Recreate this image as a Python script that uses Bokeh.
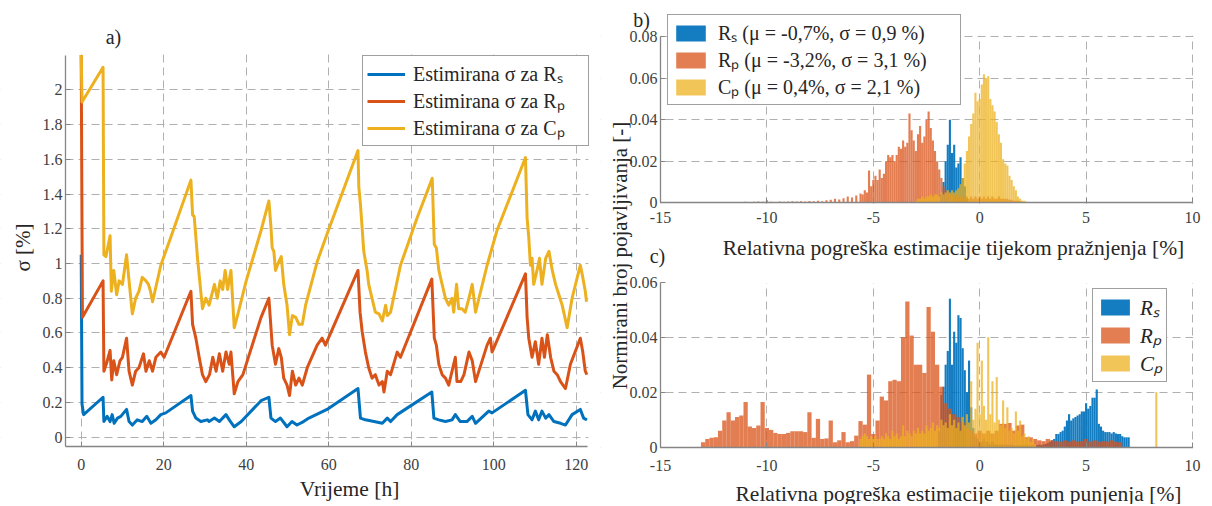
import math
from bokeh.plotting import figure
from bokeh.layouts import row
from bokeh.models import (Range1d, FixedTicker, Legend, LegendItem, Label, LinearAxis, Grid,
                          BoxAnnotation)
from bokeh.embed import file_html
from bokeh.resources import INLINE

SERIF = "Liberation Serif"
BLUE, RED, YELLOW = "#0072BD", "#D95319", "#EDB120"

# ---------------- data: panel a) estimated sigma over time ----------------
rs_points = [(0, 1.05), (0.2, 0.19), (0.6, 0.13), (5.3, 0.23), (5.5, 0.09), (6.3, 0.12), (7.0, 0.09),
             (7.5, 0.13), (8.0, 0.08), (8.8, 0.11), (9.6, 0.12), (11.0, 0.16), (11.6, 0.09), (12.4, 0.07),
             (13.6, 0.10), (14.8, 0.09), (15.9, 0.12), (16.9, 0.08), (18.1, 0.10), (19.3, 0.13), (20.5, 0.14),
             (26.6, 0.24), (27.0, 0.15), (27.8, 0.11), (29.0, 0.09), (30.6, 0.10), (31.0, 0.09), (32.3, 0.11),
             (33.5, 0.09), (35.1, 0.13), (35.9, 0.10), (37.1, 0.06), (38.8, 0.09), (43.6, 0.21), (45.5, 0.23),
             (46.0, 0.11), (47.1, 0.09), (48.3, 0.11), (49.9, 0.06), (51.1, 0.09), (52.3, 0.07), (53.9, 0.09),
             (55.2, 0.11), (59.6, 0.16), (67.1, 0.28), (67.7, 0.11), (68.9, 0.10), (71.0, 0.09), (73.0, 0.08),
             (74.2, 0.11), (75.0, 0.09), (76.6, 0.13), (85.0, 0.26), (85.5, 0.11), (86.7, 0.10), (88.3, 0.09),
             (89.9, 0.10), (90.7, 0.13), (91.9, 0.09), (93.5, 0.09), (94.8, 0.12), (95.6, 0.08), (98.8, 0.15),
             (99.6, 0.14), (107.7, 0.27), (108.3, 0.13), (109.3, 0.10), (110.1, 0.15), (110.9, 0.10),
             (111.7, 0.15), (112.6, 0.11), (113.4, 0.13), (114.6, 0.09), (116.2, 0.08), (117.4, 0.07),
             (119.0, 0.13), (121.0, 0.16), (121.8, 0.11), (122.6, 0.10)]

rp_points = [(0, 2.2), (0.3, 0.69), (5.3, 0.90), (5.5, 0.38), (6.2, 0.43), (7.0, 0.50), (7.4, 0.33),
             (7.9, 0.44), (8.6, 0.36), (9.4, 0.44), (10.0, 0.46), (11.0, 0.57), (11.6, 0.38), (12.4, 0.30),
             (13.2, 0.38), (14.0, 0.40), (15.1, 0.48), (15.7, 0.38), (16.5, 0.44), (17.3, 0.38), (18.1, 0.46),
             (19.3, 0.49), (20.1, 0.46), (26.6, 0.84), (27.0, 0.65), (27.8, 0.57), (28.6, 0.46), (29.4, 0.36),
             (30.2, 0.32), (31.1, 0.36), (31.9, 0.46), (32.7, 0.38), (33.5, 0.48), (34.3, 0.38), (35.1, 0.49),
             (35.9, 0.42), (36.3, 0.49), (37.1, 0.25), (38.0, 0.32), (39.2, 0.36), (43.6, 0.69), (45.5, 0.80),
             (46.3, 0.53), (47.1, 0.42), (47.9, 0.51), (48.5, 0.46), (49.1, 0.34), (49.9, 0.30), (50.5, 0.24),
             (51.2, 0.38), (52.0, 0.30), (52.8, 0.34), (53.6, 0.30), (54.8, 0.40), (57.2, 0.53), (58.4, 0.57),
             (59.2, 0.53), (67.1, 0.96), (67.6, 0.72), (68.1, 0.61), (68.9, 0.49), (69.7, 0.40), (70.5, 0.34),
             (71.3, 0.36), (72.2, 0.30), (73.0, 0.32), (73.4, 0.26), (74.2, 0.38), (75.0, 0.36), (76.6, 0.49),
             (77.4, 0.46), (85.0, 0.91), (85.6, 0.57), (86.1, 0.53), (86.7, 0.42), (87.5, 0.36), (88.3, 0.34),
             (89.1, 0.30), (89.9, 0.38), (90.7, 0.46), (91.1, 0.32), (92.0, 0.32), (92.8, 0.36), (94.0, 0.49),
             (94.8, 0.44), (95.6, 0.32), (98.4, 0.53), (99.2, 0.57), (99.6, 0.49), (107.7, 0.94), (108.1, 0.69),
             (108.5, 0.57), (109.3, 0.46), (110.1, 0.55), (110.9, 0.42), (111.7, 0.57), (112.3, 0.46),
             (113.0, 0.59), (113.8, 0.46), (114.6, 0.38), (115.4, 0.36), (116.2, 0.32), (117.4, 0.28),
             (118.6, 0.42), (121.0, 0.57), (121.6, 0.49), (122.2, 0.38), (122.6, 0.36)]

cp_points = [(0, 2.2), (0.2, 1.93), (5.3, 2.13), (5.5, 1.05), (6.0, 1.04), (7.0, 1.16), (7.3, 0.84),
             (7.9, 0.96), (8.6, 0.82), (9.2, 0.90), (10.0, 0.88), (11.0, 1.05), (11.6, 0.90), (12.4, 0.71),
             (13.2, 0.80), (14.0, 0.84), (14.8, 0.92), (15.7, 0.90), (16.3, 0.88), (16.8, 0.84), (17.3, 0.78),
             (19.3, 0.99), (21.7, 1.15), (26.6, 1.48), (27.0, 1.28), (27.4, 1.27), (27.8, 1.15), (28.2, 1.03),
             (29.4, 0.74), (30.2, 0.80), (31.0, 0.76), (32.3, 0.88), (33.0, 0.80), (33.7, 0.90), (34.3, 0.85),
             (34.9, 0.96), (35.5, 0.85), (36.3, 0.96), (37.1, 0.63), (38.0, 0.71), (40.0, 0.90), (43.6, 1.19),
             (45.5, 1.36), (46.0, 1.21), (46.3, 1.09), (46.7, 1.07), (47.1, 0.96), (47.9, 1.01), (48.5, 1.04),
             (49.1, 0.88), (49.9, 0.76), (50.5, 0.59), (51.2, 0.70), (52.0, 0.69), (52.8, 0.65), (53.6, 0.65),
             (54.4, 0.76), (57.2, 1.01), (59.6, 1.17), (67.1, 1.65), (67.3, 1.44), (67.7, 1.34), (68.5, 1.07),
             (69.3, 0.96), (69.7, 0.88), (70.5, 0.80), (71.3, 0.72), (72.2, 0.71), (73.0, 0.67), (73.8, 0.76),
             (74.2, 0.70), (75.0, 0.72), (77.4, 0.99), (81.4, 1.26), (85.1, 1.49), (85.4, 1.26), (85.6, 1.11),
             (86.1, 1.09), (86.7, 0.96), (87.5, 0.88), (88.3, 0.80), (89.1, 0.76), (89.9, 0.80), (90.3, 0.72),
             (91.0, 0.88), (91.5, 0.74), (92.3, 0.74), (93.1, 0.72), (94.0, 0.80), (94.8, 0.88), (95.6, 0.72),
             (98.4, 0.99), (100.8, 1.19), (107.7, 1.61), (108.1, 1.26), (108.5, 1.15), (108.9, 0.99),
             (109.3, 1.03), (109.7, 0.88), (110.5, 0.96), (111.1, 1.03), (111.7, 0.88), (112.6, 1.03),
             (113.4, 1.07), (114.2, 0.96), (115.0, 0.88), (115.8, 0.82), (116.6, 0.76), (117.8, 0.63),
             (119.0, 0.80), (121.0, 0.99), (121.6, 0.92), (122.2, 0.84), (122.5, 0.78)]

time_ticks = [0, 20, 40, 60, 80, 100, 120]
sigma_ticks = [0, 0.2, 0.4, 0.6, 0.8, 1.0, 1.2, 1.4, 1.6, 1.8, 2.0]
sigma_tick_labels = ["0", "0.2", "0.4", "0.6", "0.8", "1", "1.2", "1.4", "1.6", "1.8", "2"]
time_limits = (-3.8, 122.7)
sigma_limits = (-0.054, 2.2)

# ---------------- data: panels b) and c) histograms ----------------
err_ticks = [-15, -10, -5, 0, 5, 10]
err_tick_labels = ["-15", "-10", "-5", "0", "5", "10"]
b_freq_ticks = [0, 0.02, 0.04, 0.06, 0.08]
b_freq_tick_labels = ["0", "0.02", "0.04", "0.06", "0.08"]
c_freq_ticks = [0, 0.02, 0.04, 0.06]
c_freq_tick_labels = ["0", "0.02", "0.04", "0.06"]

# b) discharge
b_rs_start, b_rs_width = -1.8, 0.1
b_rs_heights = [0.004, 0.010, 0.020, 0.028, 0.040, 0.024, 0.028, 0.017, 0.019, 0.022, 0.012, 0.008, 0.002]

b_rp_tail_start, b_rp_tail_width = -12.0, 0.2
b_rp_tail_heights = [0.0003, 0.0002, 0.0003, 0.0004, 0.0003, 0.0005, 0.0004, 0.0005, 0.0006, 0.0005,
                     0.0012, 0.0005, 0.0004, 0.0006, 0.0005, 0.0006, 0.0007, 0.0006, 0.0008, 0.0006,
                     0.0009, 0.0007, 0.0010, 0.0008, 0.0012, 0.0015, 0.0020, 0.0016, 0.0022, 0.0030,
                     0.0025, 0.0035, 0.0045]
b_rp_start, b_rp_width = -5.5, 0.1
b_rp_heights = [0.004, 0.006, 0.005, 0.0156, 0.008, 0.011, 0.013, 0.011, 0.016, 0.012,
                0.014, 0.020, 0.023, 0.022, 0.023, 0.020, 0.023, 0.027, 0.026, 0.030,
                0.027, 0.029, 0.043, 0.035, 0.030, 0.025, 0.033, 0.037, 0.029, 0.032,
                0.040, 0.044, 0.036, 0.030, 0.025, 0.020, 0.016, 0.012, 0.008, 0.006,
                0.005, 0.004, 0.004, 0.003, 0.004, 0.003, 0.003, 0.003, 0.002, 0.003,
                0.002, 0.003, 0.002, 0.003, 0.002, 0.003, 0.002, 0.003, 0.002, 0.003,
                0.002, 0.003, 0.002, 0.002, 0.003, 0.002, 0.002, 0.002, 0.002, 0.0015,
                0.0015, 0.001, 0.001, 0.001, 0.0008, 0.0005]

b_cp_start, b_cp_width = -3.0, 0.1
b_cp_heights = [0.001, 0.002, 0.002, 0.003, 0.002, 0.003, 0.003, 0.004, 0.003, 0.004,
                0.004, 0.003, 0.005, 0.004, 0.005, 0.006, 0.005, 0.006, 0.005, 0.006,
                0.007, 0.009, 0.012, 0.019, 0.025, 0.032, 0.038, 0.043, 0.053, 0.049,
                0.050, 0.057, 0.062, 0.060, 0.061, 0.050, 0.047, 0.044, 0.039, 0.033,
                0.029, 0.021, 0.019, 0.018, 0.013, 0.011, 0.008, 0.006, 0.003, 0.002,
                0.001, 0.001, 0.0005]

# c) charge
c_rs_start, c_rs_width = -1.9, 0.1
c_rs_heights = [0.006, 0.019, 0.022, 0.030, 0.035, 0.054, 0.030, 0.042, 0.038, 0.048,
                0.047, 0.036, 0.028, 0.020, 0.0315, 0.0145, 0.007, 0.004, 0.003, 0.002,
                0.002, 0.003, 0.002, 0.002, 0.001, 0.002, 0.001, 0.001, 0.001, 0.001,
                0.001, 0.0008, 0.001, 0.0008, 0.001, 0.0008, 0.0006, 0.0008, 0.0006, 0.0008,
                0.0006, 0.0008, 0.0006, 0.0006, 0.0008, 0.0006, 0.0008, 0.001, 0.0008, 0.001,
                0.0012, 0.0015, 0.002, 0.0025, 0.003, 0.0048, 0.0048, 0.0055, 0.006, 0.0075,
                0.0097, 0.012, 0.0097, 0.0105, 0.011, 0.0115, 0.012, 0.013, 0.013, 0.016,
                0.014, 0.015, 0.018, 0.018, 0.021, 0.0085, 0.0075, 0.006, 0.0055, 0.0055,
                0.0055, 0.005, 0.0055, 0.005, 0.0048, 0.0048, 0.004, 0.0036, 0.0036, 0.0036]

c_rp_start, c_rp_width = -13.0, 0.2
c_rp_heights = [0.0018, 0.003, 0.0034, 0.0036, 0.006, 0.0097, 0.0127, 0.0097, 0.011, 0.0115,
                0.0164, 0.0075, 0.007, 0.0079, 0.0164, 0.007, 0.0063, 0.0052, 0.0048, 0.0048,
                0.0052, 0.0058, 0.0058, 0.0058, 0.0055, 0.0127, 0.0034, 0.0103, 0.003, 0.0032,
                0.0097, 0.0018, 0.0025, 0.0055, 0.0018, 0.0022, 0.0042, 0.0095, 0.0082, 0.0264,
                0.0048, 0.0097, 0.0184, 0.017, 0.024, 0.0245, 0.024, 0.040, 0.053, 0.0406,
                0.030, 0.030, 0.027, 0.051, 0.042, 0.030, 0.022, 0.016, 0.014, 0.012,
                0.011, 0.009, 0.007, 0.006, 0.005, 0.006, 0.005, 0.006, 0.005, 0.006,
                0.0085, 0.0085, 0.0088, 0.006, 0.0079, 0.0082, 0.0036, 0.0036, 0.003, 0.0025,
                0.0022, 0.003, 0.0025, 0.0022, 0.002, 0.0025, 0.002, 0.0025, 0.002, 0.0022,
                0.003, 0.002, 0.0025, 0.002, 0.0022, 0.002, 0.0025, 0.002, 0.0018]

c_cp_start, c_cp_width = -5.6, 0.1
c_cp_heights = [0.003, 0.004, 0.005, 0.004, 0.003, 0.004, 0.003, 0.004, 0.003, 0.003,
                0.004, 0.003, 0.005, 0.004, 0.003, 0.006, 0.004, 0.005, 0.003, 0.004,
                0.008, 0.004, 0.006, 0.005, 0.004, 0.006, 0.005, 0.007, 0.005, 0.006,
                0.005, 0.008, 0.006, 0.007, 0.009, 0.006, 0.008, 0.007, 0.010, 0.008,
                0.009, 0.007, 0.012, 0.008, 0.010, 0.007, 0.009, 0.006, 0.011, 0.008,
                0.012, 0.009, 0.024, 0.010, 0.014, 0.038, 0.012, 0.0315, 0.015, 0.010,
                0.040, 0.012, 0.024, 0.009, 0.0255, 0.010, 0.008, 0.017, 0.007, 0.0145,
                0.006, 0.007, 0.005, 0.013, 0.006, 0.0097, 0.004, 0.005, 0.003, 0.004,
                0.002, 0.003, 0.001]
c_cp_outlier_x = [8.3]
c_cp_outlier_h = [0.020]


def centers(start, width, heights):
    return [start + i * width for i in range(len(heights))]


def style_axis(ax):
    ax.axis_line_color = "#858585"
    ax.axis_line_width = 1.3
    ax.major_tick_in = 5
    ax.major_tick_out = 0
    ax.major_tick_line_color = "#858585"
    ax.minor_tick_line_color = None
    ax.major_label_text_font = SERIF
    ax.major_label_text_font_size = "16px"
    ax.major_label_text_color = "#404040"


def style_grid(g):
    g.grid_line_color = "#b0b0b0"
    g.grid_line_dash = "8 5"
    g.grid_line_width = 1


MASK = dict(fill_color="white", fill_alpha=1, line_color=None, level="underlay")
H = 504


def add_label(p, left, bottom, text, px, py, size="20px", angle=0.0):
    p.add_layout(Label(x=px - left, y=bottom - py, x_units="screen", y_units="screen",
                       text=text, angle=angle, text_align="center", text_baseline="middle",
                       text_font=SERIF, text_font_size=size, text_color="#262626"))


# ---------------- panel a (canvas = whole left area) ----------------
A_LEFT, A_W = 0, 600
A_BOTTOM = H
A_X0, A_X120 = 80.7, 575.7      # page x of t = 0 and t = 120
A_Y0, A_Y2 = 436.7, 89.3        # page y of sigma = 0 and sigma = 2
ppa_x = (A_X120 - A_X0) / 120.0
ppa_y = (A_Y0 - A_Y2) / 2.0

pa = figure(width=A_W, height=H, output_backend="svg", toolbar_location=None, min_border=0,
            x_axis_type=None, y_axis_type=None,
            x_range=Range1d((A_LEFT - A_X0) / ppa_x, (A_LEFT + A_W - A_X0) / ppa_x),
            y_range=Range1d((A_Y0 - A_BOTTOM) / ppa_y, A_Y0 / ppa_y))
pa.outline_line_color = None
for g in (Grid(dimension=0, ticker=FixedTicker(ticks=time_ticks)),
          Grid(dimension=1, ticker=FixedTicker(ticks=sigma_ticks))):
    style_grid(g)
    pa.add_layout(g)
ea_x, ea_y = 1.0 / ppa_x, 1.0 / ppa_y
pa.add_layout(BoxAnnotation(right=time_limits[0], **MASK))
pa.add_layout(BoxAnnotation(left=time_limits[1] + ea_x, **MASK))
pa.add_layout(BoxAnnotation(bottom=sigma_limits[1] + ea_y, **MASK))
pa.add_layout(BoxAnnotation(top=sigma_limits[0], **MASK))

xa = LinearAxis(ticker=FixedTicker(ticks=time_ticks), fixed_location=sigma_limits[0],
                bounds=time_limits)
ya = LinearAxis(ticker=FixedTicker(ticks=sigma_ticks), fixed_location=time_limits[0],
                bounds=sigma_limits)
ya.major_label_overrides = dict(zip(sigma_ticks, sigma_tick_labels))
style_axis(xa)
style_axis(ya)
xa.major_label_standoff = 12
ya.major_label_standoff = 3
pa.add_layout(xa, "below")
pa.add_layout(ya, "left")

lines = []
for pts, col in ((rs_points, BLUE), (rp_points, RED), (cp_points, YELLOW)):
    xs = [t for t, _ in pts]
    ys = [v for _, v in pts]
    lines.append(pa.line(xs, ys, line_color=col, line_width=3, line_join="round"))

leg_a = Legend(items=[LegendItem(label="Estimirana σ za Rₛ", renderers=[lines[0]]),
                      LegendItem(label="Estimirana σ za Rₚ", renderers=[lines[1]]),
                      LegendItem(label="Estimirana σ za Cₚ", renderers=[lines[2]])],
               location=(362 - A_LEFT, A_BOTTOM - 146), margin=0, padding=4, spacing=0,
               glyph_width=38, glyph_height=20, label_standoff=8, label_width=171,
               label_text_font=SERIF, label_text_font_size="20px", label_text_color="#262626",
               border_line_color="#404040", border_line_width=1.2, background_fill_alpha=1)
pa.add_layout(leg_a)
add_label(pa, A_LEFT, A_BOTTOM, "a)", 113, 36)
add_label(pa, A_LEFT, A_BOTTOM, "Vrijeme [h]", 349, 488, size="21.5px")
add_label(pa, A_LEFT, A_BOTTOM, "σ [%]", 22, 247, size="21px", angle=math.pi / 2)

# ---------------- panels b and c (one canvas, two vertical scales) ----------------
R_LEFT, R_W = 600, 608
R_BOTTOM = H
BX0, BX1 = 660.0, 1192.0            # page x of -15 and 10
B_Y0, B_Y1 = 202.3, 36.3            # b: page y of 0 and 0.08
C_Y0, C_Y1 = 446.7, 281.7           # c: page y of 0 and 0.06

ppx = (BX1 - BX0) / 25.0
ppb = (B_Y0 - B_Y1) / 0.08
ppc = (C_Y0 - C_Y1) / 0.06
x_rng = Range1d(-15 - (BX0 - R_LEFT) / ppx, 10 + (R_LEFT + R_W - BX1) / ppx)
b_rng = Range1d(-(R_BOTTOM - B_Y0) / ppb, 0.08 + B_Y1 / ppb)
c_rng = Range1d(-(R_BOTTOM - C_Y0) / ppc, 0.06 + C_Y1 / ppc)
b_at_c_top = -(C_Y1 - B_Y0) / ppb

pr = figure(width=R_W, height=H, x_range=x_rng, y_range=b_rng, output_backend="svg",
            toolbar_location=None, min_border=0, x_axis_type=None, y_axis_type=None)
pr.extra_y_ranges = {"c": c_rng}
pr.outline_line_color = None

for g in (Grid(dimension=0, ticker=FixedTicker(ticks=err_ticks)),
          Grid(dimension=1, ticker=FixedTicker(ticks=b_freq_ticks)),
          Grid(dimension=1, ticker=FixedTicker(ticks=c_freq_ticks), y_range_name="c")):
    style_grid(g)
    pr.add_layout(g)

eps_x, eps_b, eps_c = 1.0 / ppx, 1.0 / ppb, 1.0 / ppc
pr.add_layout(BoxAnnotation(right=-15, **MASK))
pr.add_layout(BoxAnnotation(left=10 + eps_x, **MASK))
pr.add_layout(BoxAnnotation(bottom=0.08 + eps_b, **MASK))
pr.add_layout(BoxAnnotation(top=-eps_b, bottom=b_at_c_top - eps_b, **MASK))
pr.add_layout(BoxAnnotation(top=-eps_c, y_range_name="c", **MASK))

yb = LinearAxis(ticker=FixedTicker(ticks=b_freq_ticks), fixed_location=-15, bounds=(0, 0.08))
yb.major_label_overrides = dict(zip(b_freq_ticks, b_freq_tick_labels))
yc = LinearAxis(y_range_name="c", ticker=FixedTicker(ticks=c_freq_ticks), fixed_location=-15,
                bounds=(0, 0.06))
yc.major_label_overrides = dict(zip(c_freq_ticks, c_freq_tick_labels))
xb = LinearAxis(ticker=FixedTicker(ticks=err_ticks), fixed_location=0, bounds=(-15, 10))
xc = LinearAxis(y_range_name="c", ticker=FixedTicker(ticks=err_ticks), fixed_location=0,
                bounds=(-15, 10))
for ax in (xb, xc):
    ax.major_label_overrides = dict(zip(err_ticks, err_tick_labels))
for ax in (yb, yc, xb, xc):
    style_axis(ax)
yb.major_label_standoff = 3
yc.major_label_standoff = 3
xb.major_label_standoff = 9
xc.major_label_standoff = 13
pr.add_layout(yb, "left")
pr.add_layout(yc, "left")
pr.add_layout(xb, "below")
pr.add_layout(xc, "below")

rb_rs = pr.vbar(x=centers(b_rs_start, b_rs_width, b_rs_heights), top=b_rs_heights, width=b_rs_width,
                fill_color=BLUE, fill_alpha=0.92, line_color=None)
rb_rp = pr.vbar(x=centers(b_rp_tail_start, b_rp_tail_width, b_rp_tail_heights) +
                centers(b_rp_start, b_rp_width, b_rp_heights),
                top=b_rp_tail_heights + b_rp_heights, width=b_rp_width,
                fill_color=RED, fill_alpha=0.75, line_color=None)
rb_cp = pr.vbar(x=centers(b_cp_start, b_cp_width, b_cp_heights), top=b_cp_heights, width=b_cp_width,
                fill_color=YELLOW, fill_alpha=0.75, line_color=None)

rc_rs = pr.vbar(x=centers(c_rs_start, c_rs_width, c_rs_heights), top=c_rs_heights, width=c_rs_width,
                fill_color=BLUE, fill_alpha=0.92, line_color=None, y_range_name="c")
rc_rp = pr.vbar(x=centers(c_rp_start, c_rp_width, c_rp_heights), top=c_rp_heights, width=c_rp_width,
                fill_color=RED, fill_alpha=0.75, line_color=None, y_range_name="c")
rc_cp = pr.vbar(x=centers(c_cp_start, c_cp_width, c_cp_heights) + c_cp_outlier_x,
                top=c_cp_heights + c_cp_outlier_h, width=c_cp_width,
                fill_color=YELLOW, fill_alpha=0.75, line_color=None, y_range_name="c")

leg_b = Legend(items=[LegendItem(label="Rₛ (μ = -0,7%, σ = 0,9 %)", renderers=[rb_rs]),
                      LegendItem(label="Rₚ (μ = -3,2%, σ = 3,1 %)", renderers=[rb_rp]),
                      LegendItem(label="Cₚ (μ = 0,4%, σ = 2,1 %)", renderers=[rb_cp])],
               location=(667 - R_LEFT, R_BOTTOM - 105), margin=0, padding=4, spacing=0,
               glyph_width=37, glyph_height=20, label_standoff=9, label_width=238,
               label_text_font=SERIF, label_text_font_size="20px", label_text_color="#262626",
               border_line_color="#404040", border_line_width=1.2, background_fill_alpha=1)
leg_c = Legend(items=[LegendItem(label="Rₛ", renderers=[rc_rs]),
                      LegendItem(label="Rₚ", renderers=[rc_rp]),
                      LegendItem(label="Cₚ", renderers=[rc_cp])],
               location=(1092 - R_LEFT, R_BOTTOM - 382), margin=0, padding=4, spacing=0,
               glyph_width=36, glyph_height=20, label_standoff=7, label_text_font=SERIF,
               label_text_font_size="21px", label_text_font_style="italic",
               label_text_color="#262626", border_line_color="#404040", border_line_width=1.2,
               background_fill_alpha=1)
pr.add_layout(leg_b)
pr.add_layout(leg_c)

add_label(pr, R_LEFT, R_BOTTOM, "b)", 641, 19)
add_label(pr, R_LEFT, R_BOTTOM, "c)", 657, 255)
add_label(pr, R_LEFT, R_BOTTOM, "Normirani broj pojavljivanja [-]", 619, 255, size="21px",
          angle=math.pi / 2)
add_label(pr, R_LEFT, R_BOTTOM, "Relativna pogreška estimacije tijekom pražnjenja [%]", 953, 247,
          size="21.5px")
add_label(pr, R_LEFT, R_BOTTOM, "Relativna pogreška estimacije tijekom punjenja [%]", 958, 493,
          size="21.5px")

layout = row(pa, pr)
open("out.html", "w").write(file_html(layout, INLINE))
